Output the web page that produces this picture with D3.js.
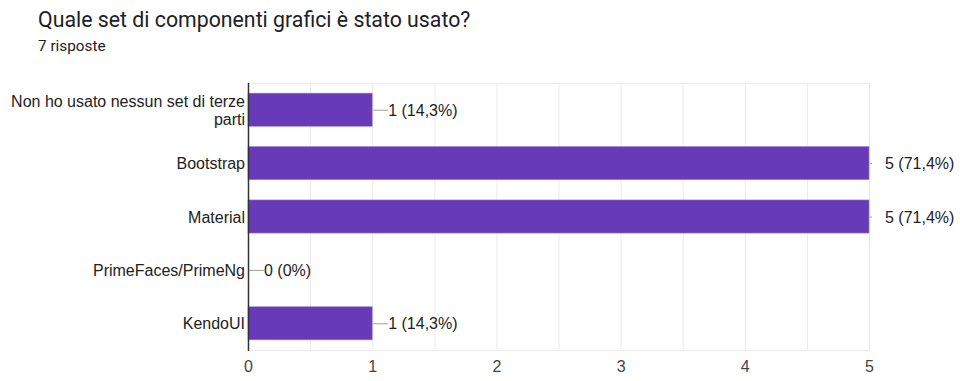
<!DOCTYPE html>
<html><head><meta charset="utf-8">
<script src="https://cdn.jsdelivr.net/npm/d3@7"></script>
<style>body{margin:0;background:#fff;}svg{display:block;font-family:"Liberation Sans",Arial,sans-serif;}</style>
</head><body>
<svg id="c" width="960" height="381"></svg>
<script>
const title = "Quale set di componenti grafici è stato usato?";
const subtitle = "7 risposte";
const categories = [["Non ho usato nessun set di terze","parti"],["Bootstrap"],["Material"],["PrimeFaces/PrimeNg"],["KendoUI"]];
const values = [1,5,5,0,1];
const valueLabels = ["1 (14,3%)","5 (71,4%)","5 (71,4%)","0 (0%)","1 (14,3%)"];
const ticks = [0,1,2,3,4,5];
const minorTicks = [0.5,1.5,2.5,3.5,4.5];

const svg = d3.select("#c");
const L=248,R=869,T=83,B=350;
const FS=16;
const x = d3.scaleLinear().domain([0,5]).range([L,R]);
const y = d3.scaleBand().domain(d3.range(categories.length)).range([T,B]).paddingInner(0.38).paddingOuter(0.19);

svg.append("text").attr("x",38).attr("y",27).attr("font-size",21.3).attr("font-family","Roboto,sans-serif").attr("fill","#202124").text(title);
svg.append("text").attr("x",38).attr("y",51).attr("font-size",15.3).attr("font-family","Roboto,sans-serif").attr("fill","#202124").text(subtitle);

// grid
svg.selectAll(".g").data(ticks.concat(minorTicks).filter(d=>d>0)).enter().append("line")
 .attr("x1",d=>x(d)+0.5).attr("x2",d=>x(d)+0.5).attr("y1",T).attr("y2",B)
 .attr("stroke",d=>d===5?"#e6e6e6":"#ebebeb").attr("stroke-width",1);
svg.append("line").attr("x1",L).attr("x2",R+1).attr("y1",T+0.5).attr("y2",T+0.5).attr("stroke","#ebebeb");
svg.append("line").attr("x1",L).attr("x2",R+1).attr("y1",B+0.5).attr("y2",B+0.5).attr("stroke","#ebebeb");

values.forEach((v,i)=>{
  if(v>0){
    svg.append("rect").attr("x",x(0)).attr("y",y(i)).attr("width",x(v)-x(0)).attr("height",y.bandwidth())
      .attr("fill","#673ab7").attr("stroke","#9b7fd4").attr("stroke-width",0.6);
  }
  const cy=y(i)+y.bandwidth()/2;
  const full = v===5;
  const x1 = x(v)+1, x2 = full? x(v)+3 : x(v)+16;
  svg.append("line").attr("x1",x1).attr("x2",x2).attr("y1",cy+0.5).attr("y2",cy+0.5).attr("stroke","#9e9e9e").attr("stroke-width",1);
  svg.append("text").attr("x",full? x(v)+16 : x2).attr("y",cy+6).attr("font-size",FS).attr("fill","#222").text(valueLabels[i]);
  const lines=categories[i];
  lines.forEach((t,j)=>{
    svg.append("text").attr("x",245).attr("y",cy+6+(j-(lines.length-1)/2)*18).attr("text-anchor","end")
      .attr("font-size",FS).attr("fill","#222").text(t);
  });
});

// axis line
svg.append("line").attr("x1",L+0.5).attr("x2",L+0.5).attr("y1",T).attr("y2",B+1).attr("stroke","#333").attr("stroke-width",1.5);

// tick labels
const ax = d3.axisBottom(x).tickValues(ticks).tickFormat(d3.format("d")).tickSize(0).tickPadding(0);
const g = svg.append("g").attr("transform",`translate(0,${B})`).call(ax);
g.select(".domain").remove();
g.selectAll("text").attr("y",17).attr("dy","0.32em").attr("font-size",FS).attr("font-family","'Liberation Sans',Arial,sans-serif").attr("fill","#444");
</script>
</body></html>
